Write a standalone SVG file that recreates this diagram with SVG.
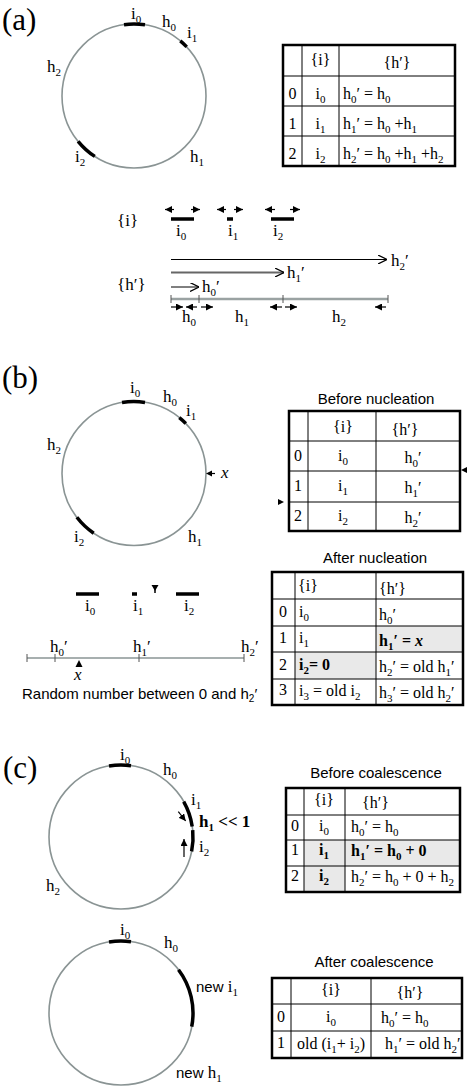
<svg xmlns="http://www.w3.org/2000/svg" width="470" height="1089" viewBox="0 0 470 1089">
<style>
.c{fill:none;stroke:#8a9494;stroke-width:1.6}
.seg{fill:none;stroke:#000;stroke-width:3.5}
.l{font-family:"Liberation Serif",serif;font-size:17px;fill:#000}
.t{font-family:"Liberation Serif",serif;font-size:16px;fill:#000}
.sb{font-size:11px}
.sa{font-family:"Liberation Sans",sans-serif;font-size:15px;fill:#000}
.big{font-family:"Liberation Serif",serif;font-size:31px;fill:#000}
.ob{fill:none;stroke:#000;stroke-width:2.5}
.in{stroke:#000;stroke-width:1}
.hl{fill:#e9e9e9}
.ar{fill:none;stroke:#000;stroke-width:1.2;marker-end:url(#ah)}
.nl{stroke:#8a9494;stroke-width:1.5}
.tk{stroke:#555;stroke-width:1}
.b{font-weight:bold}
.m{text-anchor:middle}
.tri{fill:#000}
</style>
<defs>
<marker id="ah" viewBox="0 0 10 10" refX="10" refY="5" markerWidth="7" markerHeight="7" markerUnits="userSpaceOnUse" orient="auto"><path d="M0,0 L10,5 L0,10 z" fill="#000"/></marker>
<marker id="oa" viewBox="0 0 10 10" refX="10" refY="5" markerWidth="9" markerHeight="9" markerUnits="userSpaceOnUse" orient="auto"><path d="M0,0 L10,5 L0,10" fill="none" stroke="#000" stroke-width="1.4"/></marker>
</defs>

<!-- ===== (a) ===== -->
<g id="label-a"><text class="big" x="2" y="30">(a)</text></g>
<g id="circle-a">
<circle class="c" cx="134" cy="96" r="72"/>
<path class="seg" d="M124,24.7 A72,72 0 0 1 145,24.85"/>
<path class="seg" d="M180.3,40.9 A72,72 0 0 1 186.7,46.9"/>
<path class="seg" d="M94.8,156.4 A72,72 0 0 1 78.1,141.3"/>
<text class="l" x="131" y="19">i<tspan class="sb" dy="4">0</tspan></text>
<text class="l" x="162" y="27">h<tspan class="sb" dy="4">0</tspan></text>
<text class="l" x="187" y="38">i<tspan class="sb" dy="4">1</tspan></text>
<text class="l" x="47" y="72">h<tspan class="sb" dy="4">2</tspan></text>
<text class="l" x="75" y="162">i<tspan class="sb" dy="4">2</tspan></text>
<text class="l" x="190" y="162">h<tspan class="sb" dy="4">1</tspan></text>
</g>
<g id="table-a">
<rect class="ob" x="283" y="45" width="172" height="121"/>
<line class="in" x1="302" y1="45" x2="302" y2="166"/>
<line class="in" x1="339" y1="45" x2="339" y2="166"/>
<line class="in" x1="283" y1="76" x2="455" y2="76"/>
<line class="in" x1="283" y1="106" x2="455" y2="106"/>
<line class="in" x1="283" y1="136" x2="455" y2="136"/>
<text class="t m" x="320.5" y="65">{i}</text>
<text class="t m" x="397" y="68">{h′}</text>
<text class="t m" x="292.5" y="99">0</text>
<text class="t m" x="292.5" y="129">1</text>
<text class="t m" x="292.5" y="159">2</text>
<text class="t m" x="320.5" y="99">i<tspan class="sb" dy="4">0</tspan></text>
<text class="t m" x="320.5" y="129">i<tspan class="sb" dy="4">1</tspan></text>
<text class="t m" x="320.5" y="159">i<tspan class="sb" dy="4">2</tspan></text>
<text class="t" x="343" y="99">h<tspan class="sb" dy="4">0</tspan><tspan dy="-4">′ = h</tspan><tspan class="sb" dy="4">0</tspan></text>
<text class="t" x="343" y="129">h<tspan class="sb" dy="4">1</tspan><tspan dy="-4">′ = h</tspan><tspan class="sb" dy="4">0</tspan><tspan dy="-4"> +h</tspan><tspan class="sb" dy="4">1</tspan></text>
<text class="t" x="343" y="159">h<tspan class="sb" dy="4">2</tspan><tspan dy="-4">′ = h</tspan><tspan class="sb" dy="4">0</tspan><tspan dy="-4"> +h</tspan><tspan class="sb" dy="4">1</tspan><tspan dy="-4"> +h</tspan><tspan class="sb" dy="4">2</tspan></text>
</g>
<g id="line-a">
<text class="l" x="117" y="226">{i}</text>
<text class="l" x="117" y="290">{h′}</text>
<line class="seg" x1="171" y1="219" x2="194" y2="219"/>
<line class="seg" x1="227" y1="219" x2="233" y2="219"/>
<line class="seg" x1="271" y1="219" x2="294" y2="219"/>
<text class="l" x="176" y="236">i<tspan class="sb" dy="4">0</tspan></text>
<text class="l" x="228" y="236">i<tspan class="sb" dy="4">1</tspan></text>
<text class="l" x="273" y="236">i<tspan class="sb" dy="4">2</tspan></text>
<line x1="171" y1="259.5" x2="387" y2="259.5" stroke="#000" stroke-width="1" marker-end="url(#oa)"/>
<line x1="171" y1="272.5" x2="284" y2="272.5" stroke="#666" stroke-width="2" marker-end="url(#oa)"/>
<line x1="171" y1="287" x2="199" y2="287" stroke="#000" stroke-width="1" marker-end="url(#oa)"/>
<text class="l" x="391" y="266">h<tspan class="sb" dy="4">2</tspan><tspan dy="-4">′</tspan></text>
<text class="l" x="287" y="278">h<tspan class="sb" dy="4">1</tspan><tspan dy="-4">′</tspan></text>
<text class="l" x="202" y="292">h<tspan class="sb" dy="4">0</tspan><tspan dy="-4">′</tspan></text>
<line x1="171" y1="299" x2="388" y2="299" stroke="#9aa2a2" stroke-width="2.5"/>
<line class="tk" x1="171" y1="295" x2="171" y2="303"/>
<line class="tk" x1="199" y1="295" x2="199" y2="303"/>
<line class="tk" x1="283" y1="295" x2="283" y2="303"/>
<line class="tk" x1="388" y1="295" x2="388" y2="303"/>
<text class="l" x="182" y="322">h<tspan class="sb" dy="4">0</tspan></text>
<text class="l" x="235" y="322">h<tspan class="sb" dy="4">1</tspan></text>
<text class="l" x="332" y="322">h<tspan class="sb" dy="4">2</tspan></text>
</g>
<g id="connectors">
<line class="ar" x1="174" y1="209.5" x2="165" y2="209.5"/>
<line class="ar" x1="191" y1="209.5" x2="200" y2="209.5"/>
<line class="ar" x1="226" y1="209.5" x2="217" y2="209.5"/>
<line class="ar" x1="234" y1="209.5" x2="243" y2="209.5"/>
<line class="ar" x1="275" y1="209.5" x2="265" y2="209.5"/>
<line class="ar" x1="290" y1="209.5" x2="300" y2="209.5"/>
<line class="ar" x1="171" y1="307" x2="183" y2="307"/>
<line class="ar" x1="197" y1="307" x2="186" y2="307"/>
<line class="ar" x1="201" y1="307" x2="213" y2="307"/>
<line class="ar" x1="282" y1="307" x2="270" y2="307"/>
<line class="ar" x1="285" y1="307" x2="297" y2="307"/>
<line class="ar" x1="386" y1="307" x2="375" y2="307"/>
<line class="ar" x1="178.3" y1="811.7" x2="185.7" y2="821"/>
<line class="ar" x1="184" y1="857" x2="184" y2="839"/>
</g>

<!-- ===== (b) ===== -->
<g id="label-b"><text class="big" x="2" y="388">(b)</text></g>
<g id="circle-b">
<circle class="c" cx="134" cy="473.5" r="72"/>
<path class="seg" d="M122,402.5 A72,72 0 0 1 145,402.4"/>
<path class="seg" d="M179.3,417.6 A72,72 0 0 1 185.8,423.5"/>
<path class="seg" d="M93.7,533.2 A72,72 0 0 1 76.9,517.3"/>
<polygon class="tri" points="206,473.5 212,470.5 212,476.5"/>
<line x1="211" y1="473.5" x2="215" y2="473.5" stroke="#000" stroke-width="1.2"/>
<text class="l" x="221" y="478" font-style="italic">x</text>
<text class="l" x="130" y="393">i<tspan class="sb" dy="4">0</tspan></text>
<text class="l" x="163" y="402">h<tspan class="sb" dy="4">0</tspan></text>
<text class="l" x="186" y="416">i<tspan class="sb" dy="4">1</tspan></text>
<text class="l" x="47" y="450">h<tspan class="sb" dy="4">2</tspan></text>
<text class="l" x="74" y="542">i<tspan class="sb" dy="4">2</tspan></text>
<text class="l" x="188" y="542">h<tspan class="sb" dy="4">1</tspan></text>
</g>
<g id="table-b-before">
<text class="sa m" x="376" y="404">Before nucleation</text>
<rect class="ob" x="289" y="411" width="171" height="120"/>
<line class="in" x1="308" y1="411" x2="308" y2="531"/>
<line class="in" x1="376" y1="411" x2="376" y2="531"/>
<line class="in" x1="289" y1="441" x2="460" y2="441"/>
<line class="in" x1="289" y1="471" x2="460" y2="471"/>
<line class="in" x1="289" y1="502" x2="460" y2="502"/>
<polygon class="tri" points="461,470 467,467 467,473"/>
<polygon class="tri" points="284,502 278,499 278,505"/>
<text class="t m" x="343" y="432">{i}</text>
<text class="t m" x="405" y="435">{h′}</text>
<text class="t m" x="298" y="461">0</text>
<text class="t m" x="298" y="491">1</text>
<text class="t m" x="298" y="521">2</text>
<text class="t m" x="343" y="461">i<tspan class="sb" dy="4">0</tspan></text>
<text class="t m" x="343" y="491">i<tspan class="sb" dy="4">1</tspan></text>
<text class="t m" x="343" y="521">i<tspan class="sb" dy="4">2</tspan></text>
<text class="t m" x="413" y="463">h<tspan class="sb" dy="4">0</tspan><tspan dy="-4">′</tspan></text>
<text class="t m" x="413" y="493">h<tspan class="sb" dy="4">1</tspan><tspan dy="-4">′</tspan></text>
<text class="t m" x="413" y="523">h<tspan class="sb" dy="4">2</tspan><tspan dy="-4">′</tspan></text>
</g>
<g id="line-b">
<line class="seg" x1="76" y1="594" x2="99" y2="594"/>
<line class="seg" x1="132" y1="594" x2="137" y2="594"/>
<line class="seg" x1="176" y1="594" x2="199" y2="594"/>
<polygon class="tri" points="151.5,585 158.5,585 155,591"/>
<line x1="155" y1="589" x2="155" y2="593" stroke="#000" stroke-width="1.5"/>
<text class="l" x="85" y="611">i<tspan class="sb" dy="4">0</tspan></text>
<text class="l" x="133" y="611">i<tspan class="sb" dy="4">1</tspan></text>
<text class="l" x="184" y="611">i<tspan class="sb" dy="4">2</tspan></text>
<line class="nl" x1="27" y1="658" x2="244" y2="658"/>
<line class="tk" x1="27" y1="654" x2="27" y2="662"/>
<line class="tk" x1="55" y1="654" x2="55" y2="662"/>
<line class="tk" x1="139" y1="654" x2="139" y2="662"/>
<line class="tk" x1="244" y1="654" x2="244" y2="662"/>
<text class="l" x="50" y="652">h<tspan class="sb" dy="4">0</tspan><tspan dy="-4">′</tspan></text>
<text class="l" x="133" y="652">h<tspan class="sb" dy="4">1</tspan><tspan dy="-4">′</tspan></text>
<text class="l" x="241" y="652">h<tspan class="sb" dy="4">2</tspan><tspan dy="-4">′</tspan></text>
<polygon class="tri" points="79,660 75.5,667 82.5,667"/>
<text class="l" x="74" y="680" font-style="italic" font-size="22">x</text>
<text class="sa" x="22" y="699">Random number between 0 and h<tspan font-size="10" dy="3">2</tspan><tspan dy="-3">′</tspan></text>
</g>
<g id="table-b-after">
<text class="sa m" x="375" y="563">After nucleation</text>
<rect class="hl" x="376" y="626" width="87" height="26"/>
<rect class="hl" x="295" y="652" width="81" height="27"/>
<rect class="ob" x="272" y="572" width="191" height="133"/>
<line class="in" x1="295" y1="572" x2="295" y2="705"/>
<line class="in" x1="376" y1="572" x2="376" y2="705"/>
<line class="in" x1="272" y1="599" x2="463" y2="599"/>
<line class="in" x1="272" y1="626" x2="463" y2="626"/>
<line class="in" x1="272" y1="652" x2="463" y2="652"/>
<line class="in" x1="272" y1="679" x2="463" y2="679"/>
<text class="t" x="298" y="591">{i}</text>
<text class="t" x="379" y="594">{h′}</text>
<text class="t" x="279" y="617">0</text>
<text class="t" x="279" y="643">1</text>
<text class="t" x="279" y="670">2</text>
<text class="t" x="279" y="695">3</text>
<text class="t" x="299" y="617">i<tspan class="sb" dy="4">0</tspan></text>
<text class="t" x="299" y="643">i<tspan class="sb" dy="4">1</tspan></text>
<text class="t b" x="299" y="670">i<tspan class="sb" dy="4">2</tspan><tspan dy="-4">= 0</tspan></text>
<text class="t" x="299" y="696">i<tspan class="sb" dy="4">3</tspan><tspan dy="-4"> = old i</tspan><tspan class="sb" dy="4">2</tspan></text>
<text class="t" x="379" y="620">h<tspan class="sb" dy="4">0</tspan><tspan dy="-4">′</tspan></text>
<text class="t b" x="379" y="646">h<tspan class="sb" dy="4">1</tspan><tspan dy="-4">′ = </tspan><tspan font-style="italic">x</tspan></text>
<text class="t" x="379" y="672">h<tspan class="sb" dy="4">2</tspan><tspan dy="-4">′ = old h</tspan><tspan class="sb" dy="4">1</tspan><tspan dy="-4">′</tspan></text>
<text class="t" x="379" y="698">h<tspan class="sb" dy="4">3</tspan><tspan dy="-4">′ = old h</tspan><tspan class="sb" dy="4">2</tspan><tspan dy="-4">′</tspan></text>
</g>

<!-- ===== (c) ===== -->
<g id="label-c"><text class="big" x="3" y="778">(c)</text></g>
<g id="circle-c-before">
<circle class="c" cx="121" cy="837" r="72"/>
<path class="seg" d="M109,766 A72,72 0 0 1 131,765.7"/>
<path class="seg" d="M183.7,801.6 A72,72 0 0 1 192.2,826.4"/>
<path class="seg" d="M192.7,830.1 A72,72 0 0 1 191.6,851.4"/>
<text class="l" x="120" y="760">i<tspan class="sb" dy="4">0</tspan></text>
<text class="l" x="163" y="775">h<tspan class="sb" dy="4">0</tspan></text>
<text class="l" x="191" y="805">i<tspan class="sb" dy="4">1</tspan></text>
<text class="l b" x="199" y="827">h<tspan class="sb" dy="4">1</tspan><tspan dy="-4"> &lt;&lt; 1</tspan></text>
<text class="l" x="199" y="852">i<tspan class="sb" dy="4">2</tspan></text>
<text class="l" x="46" y="891">h<tspan class="sb" dy="4">2</tspan></text>
</g>
<g id="table-c-before">
<text class="sa m" x="376" y="778">Before coalescence</text>
<rect class="hl" x="304" y="840" width="156" height="26"/>
<rect class="hl" x="304" y="866" width="41" height="26"/>
<rect class="ob" x="286" y="788" width="174" height="104"/>
<line class="in" x1="304" y1="788" x2="304" y2="892"/>
<line class="in" x1="345" y1="788" x2="345" y2="892"/>
<line class="in" x1="286" y1="815" x2="460" y2="815"/>
<line class="in" x1="286" y1="840" x2="460" y2="840"/>
<line class="in" x1="286" y1="866" x2="460" y2="866"/>
<text class="t m" x="324" y="805">{i}</text>
<text class="t" x="362" y="808">{h′}</text>
<text class="t m" x="295" y="831">0</text>
<text class="t m" x="295" y="855">1</text>
<text class="t m" x="295" y="881">2</text>
<text class="t m" x="324" y="831">i<tspan class="sb" dy="4">0</tspan></text>
<text class="t m b" x="324" y="855">i<tspan class="sb" dy="4">1</tspan></text>
<text class="t m b" x="324" y="881">i<tspan class="sb" dy="4">2</tspan></text>
<text class="t" x="351" y="832">h<tspan class="sb" dy="4">0</tspan><tspan dy="-4">′ = h</tspan><tspan class="sb" dy="4">0</tspan></text>
<text class="t b" x="351" y="856">h<tspan class="sb" dy="4">1</tspan><tspan dy="-4">′ = h</tspan><tspan class="sb" dy="4">0</tspan><tspan dy="-4"> + 0</tspan></text>
<text class="t" x="351" y="882">h<tspan class="sb" dy="4">2</tspan><tspan dy="-4">′ = h</tspan><tspan class="sb" dy="4">0</tspan><tspan dy="-4"> + 0 + h</tspan><tspan class="sb" dy="4">2</tspan></text>
</g>
<g id="circle-c-after">
<circle class="c" cx="121" cy="1013" r="72"/>
<path class="seg" d="M109,942 A72,72 0 0 1 131,941.7"/>
<path class="seg" d="M178.5,969.7 A72,72 0 0 1 191.7,1026.7"/>
<text class="l" x="120" y="935">i<tspan class="sb" dy="4">0</tspan></text>
<text class="l" x="164" y="948">h<tspan class="sb" dy="4">0</tspan></text>
<text class="l" x="196" y="992"><tspan class="sa">new </tspan>i<tspan class="sb" dy="4">1</tspan></text>
<text class="l" x="176" y="1078"><tspan class="sa">new </tspan>h<tspan class="sb" dy="4">1</tspan></text>
</g>
<g id="table-c-after">
<text class="sa m" x="374" y="967">After coalescence</text>
<rect class="ob" x="272" y="978" width="190" height="80"/>
<line class="in" x1="291" y1="978" x2="291" y2="1058"/>
<line class="in" x1="371" y1="978" x2="371" y2="1058"/>
<line class="in" x1="272" y1="1004" x2="462" y2="1004"/>
<line class="in" x1="272" y1="1031" x2="462" y2="1031"/>
<text class="t m" x="331" y="995">{i}</text>
<text class="t m" x="410" y="998">{h′}</text>
<text class="t m" x="281" y="1022">0</text>
<text class="t m" x="281" y="1048">1</text>
<text class="t m" x="331" y="1022">i<tspan class="sb" dy="4">0</tspan></text>
<text class="t m" x="331" y="1049">old (i<tspan class="sb" dy="4">1</tspan><tspan dy="-4">+ i</tspan><tspan class="sb" dy="4">2</tspan><tspan dy="-4">)</tspan></text>
<text class="t" x="381" y="1023">h<tspan class="sb" dy="4">0</tspan><tspan dy="-4">′ = h</tspan><tspan class="sb" dy="4">0</tspan></text>
<text class="t" x="385" y="1049">h<tspan class="sb" dy="4">1</tspan><tspan dy="-4">′ = old h</tspan><tspan class="sb" dy="4">2</tspan><tspan dy="-4">′</tspan></text>
</g>
</svg>
